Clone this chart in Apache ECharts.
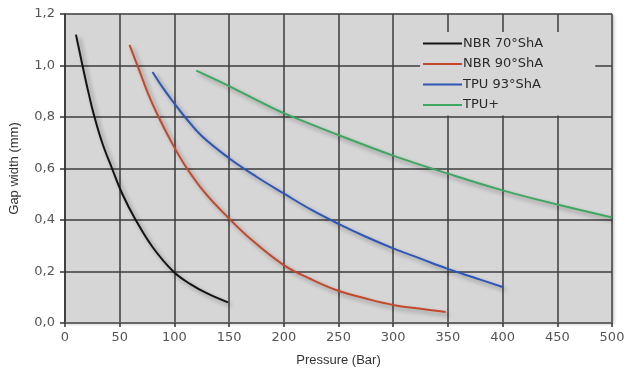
<!DOCTYPE html>
<html>
<head>
<meta charset="utf-8">
<script src="https://cdn.jsdelivr.net/npm/echarts@6/dist/echarts.min.js"></script>
<style>
  html, body { margin: 0; padding: 0; background: #fff; }
  #chart { width: 630px; height: 372px; }
</style>
</head>
<body>
<div id="chart"></div>
<script>
// 数据：压力 (Bar) 与 间隙宽度 (mm)
var seriesNames = ["NBR 70°ShA", "NBR 90°ShA", "TPU 93°ShA", "TPU+"];
var seriesColors = ["#141414", "#c4482b", "#2c56b8", "#3ea862"];

var nbr70 = [[10, 1.12], [14, 1.04], [18, 0.96], [22, 0.885], [26, 0.815], [34, 0.7], [43, 0.6],
  [52, 0.505], [64, 0.405], [80, 0.295], [99, 0.2], [115, 0.15], [130, 0.115], [149, 0.08]];
var nbr90 = [[59, 1.08], [68, 0.98], [76, 0.89], [85, 0.805], [97, 0.705], [110, 0.61],
  [128, 0.505], [149, 0.41], [170, 0.325], [200, 0.225], [225, 0.17], [250, 0.125],
  [275, 0.095], [300, 0.07], [325, 0.055], [348, 0.043]];
var tpu93 = [[80, 0.975], [90, 0.91], [100, 0.852], [110, 0.798], [125, 0.726], [150, 0.64],
  [175, 0.568], [200, 0.503], [225, 0.44], [250, 0.385], [275, 0.335], [300, 0.29], [325, 0.25],
  [350, 0.21], [375, 0.175], [400, 0.14]];
var tpuPlus = [[120, 0.98], [150, 0.92], [178, 0.86], [200, 0.815], [250, 0.73], [300, 0.65],
  [350, 0.58], [400, 0.515], [450, 0.46], [500, 0.41]];

var allData = [nbr70, nbr90, tpu93, tpuPlus];

(function () {
  var myChart = echarts.init(document.getElementById("chart"));

  var series = allData.map(function (d, i) {
    return {
      name: seriesNames[i],
      type: "line",
      data: d,
      smooth: 0.4,
      showSymbol: false,
      symbol: "none",
      color: seriesColors[i],
      lineStyle: {
        width: 2,
        color: seriesColors[i],
        shadowColor: "rgba(0,0,0,0.35)",
        shadowBlur: 4,
        shadowOffsetX: 3,
        shadowOffsetY: 3
      }
    };
  });

  var option = {
    animation: false,
    backgroundColor: "#ffffff",
    grid: {
      left: 65,
      top: 14,
      right: 18,
      bottom: 48,
      show: true,
      backgroundColor: "#d6d6d6",
      borderWidth: 0,
      shadowColor: "rgba(0,0,0,0.25)",
      shadowBlur: 3,
      shadowOffsetX: 2,
      shadowOffsetY: 1
    },
    legend: {
      orient: "vertical",
      left: 420,
      top: 32,
      data: seriesNames,
      icon: "rect",
      itemWidth: 39,
      itemHeight: 2,
      itemGap: 7.5,
      padding: [5, 52, 4, 3],
      backgroundColor: "#d6d6d6",
      textStyle: {
        fontFamily: "DejaVu Sans",
        fontSize: 13,
        color: "#2a2a2a",
        padding: [0, 0, 0, -4]
      }
    },
    xAxis: {
      type: "value",
      min: 0,
      max: 500,
      interval: 50,
      name: "Pressure (Bar)",
      nameLocation: "middle",
      nameGap: 31,
      nameTextStyle: { fontFamily: "Liberation Sans", fontSize: 13, color: "#333" },
      axisLine: { show: true, lineStyle: { color: "#666", width: 2 } },
      axisTick: { show: true, length: 4, lineStyle: { color: "#333", width: 1.5 } },
      axisLabel: { fontFamily: "DejaVu Sans", fontSize: 13, color: "#555", margin: 8 },
      splitLine: { show: true, lineStyle: { color: "#3c3c3c", width: 1.5 } }
    },
    yAxis: {
      type: "value",
      min: 0,
      max: 1.2,
      interval: 0.2,
      name: "Gap width (mm)",
      nameLocation: "middle",
      nameGap: 44,
      nameTextStyle: { fontFamily: "Liberation Sans", fontSize: 13, color: "#333" },
      axisLine: { show: true, lineStyle: { color: "#333", width: 1.5 } },
      axisTick: { show: true, length: 5, lineStyle: { color: "#333", width: 1.5 } },
      axisLabel: {
        fontFamily: "DejaVu Sans",
        fontSize: 13,
        color: "#555",
        margin: 10,
        formatter: function (v) { return v.toFixed(1).replace(".", ","); }
      },
      splitLine: { show: true, lineStyle: { color: "#3c3c3c", width: 1.5 } }
    },
    series: series
  };

  myChart.setOption(option);
})();
</script>
</body>
</html>
